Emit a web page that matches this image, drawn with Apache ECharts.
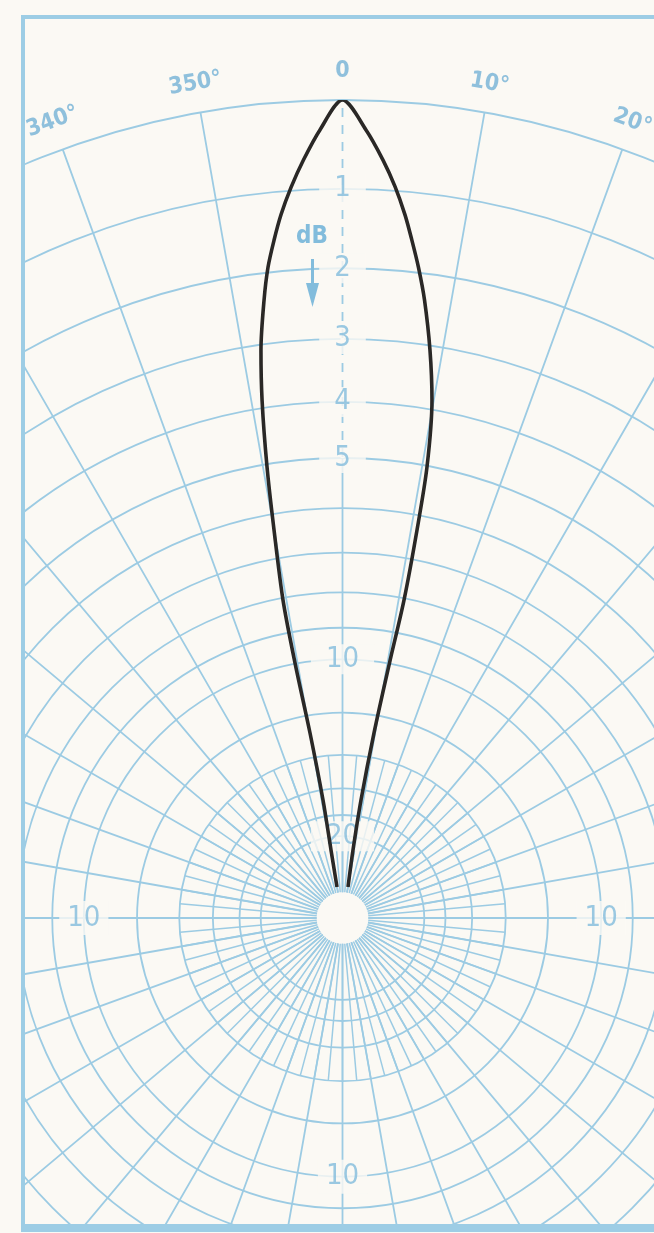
<!DOCTYPE html>
<html><head><meta charset="utf-8">
<script src="https://cdn.jsdelivr.net/npm/echarts@6/dist/echarts.min.js"></script>
<style>
html,body{margin:0;padding:0;background:#fbf9f4;overflow:hidden;width:654px;height:1233px;}
#frame{position:absolute;left:21px;top:15px;width:640px;height:1205px;border-left:4px solid #9dcde5;border-top:4px solid #9dcde5;border-bottom:8px solid #9dcde5;}
#chart{width:640px;height:1205px;}
</style></head><body>
<div id="frame"><div id="chart"></div></div>
<script>
// ---- data ----
const RING_DB = [0, 1, 2, 3, 4, 5, 6, 7, 8, 9, 10, 12, 14, 16, 18, 20];
const INNER_DB = 30;
const MINOR_SPOKE_OUTER_DB = 14;
const MAJOR_SPOKE_STEP = 10;
const MINOR_SPOKE_STEP = 5;
const ANGLE_TICKS = [0,10,20,30,40,50,60,70,80,90,100,110,120,130,140,150,160,170,180,190,200,210,220,230,240,250,260,270,280,290,300,310,320,330,340,350];
const AXIS_DB_LABELS = [1, 2, 3, 4, 5, 10, 20];
const SIDE_DB_LABEL = 10;
const SIDE_LABEL_ANGLES = [90, 180, 270];
const DASHED_TO_DB = 5;
// radiation pattern: angle (deg, clockwise from 0) and attenuation (dB)
const PATTERN_ANGLE = [-10.06, -9.60, -9.38, -9.96, -10.55, -10.60, -10.01, -9.50, -8.83, -8.17, -7.24, -6.53, -5.77, -5.00, -4.03, -2.95, -1.64, 0,
                       1.71, 3.06, 4.11, 5.08, 5.85, 6.66, 7.56, 8.76, 9.80, 10.61, 10.87, 10.95, 10.44, 9.66, 8.91, 8.78, 10.06];
const PATTERN_DB = [28.29, 21.48, 16.70, 12.78, 9.98, 8.06, 6.35, 5.05, 3.87, 3.08, 2.37, 1.93, 1.59, 1.28, 0.96, 0.65, 0.32, 0,
                    0.32, 0.65, 0.95, 1.28, 1.59, 1.93, 2.36, 3.07, 3.84, 5.02, 6.32, 8.05, 9.98, 12.79, 16.71, 21.50, 28.29];

// ---- layout / style ----
const CENTER = [317.5, 899];
const R = 818;
const PAPER = '#fbf9f4';
const GRID = '#9ccbe3';
const LABEL = '#82bcdc';
const ANGLE_LABEL_COLOR = '#74b2d6';
const ANGLE_LABEL_AMP = 1.036;
const NARROW = "'Liberation Sans Narrow', 'DejaVu Sans Condensed', sans-serif";
const COND = "'DejaVu Sans Condensed', 'Liberation Sans Narrow', sans-serif";

const amp = db => Math.pow(10, -db / 20);
const norm = a => (a < 0 ? a + 360 : a);
const signed = a => (a > 180 ? a - 360 : a);
const minAmp = amp(INNER_DB);

const chart = echarts.init(document.getElementById('chart'), null, {renderer: 'canvas'});

const axisLabelData = AXIS_DB_LABELS.map(d => ({
  value: [amp(d), 0], name: String(d),
  label: {padding: [2, 15]}
})).concat(SIDE_LABEL_ANGLES.map(a => ({
  value: [amp(SIDE_DB_LABEL), a], name: String(SIDE_DB_LABEL),
  label: {padding: [4, 8]}
})));

const angleLabelData = ANGLE_TICKS.map(a => ({
  value: [ANGLE_LABEL_AMP, a],
  name: a === 0 ? '0' : a + '°',
  label: {rotate: -signed(a)}
}));

const patternData = PATTERN_ANGLE.map((a, i) => [amp(PATTERN_DB[i]), norm(a)]);

chart.setOption({
  backgroundColor: PAPER,
  animation: false,
  polar: [
    {center: CENTER, radius: [R * minAmp, R]},
    {center: CENTER, radius: [R * minAmp, R * amp(MINOR_SPOKE_OUTER_DB)]}
  ],
  angleAxis: [
    {polarIndex: 0, type: 'value', min: 0, max: 360, interval: MAJOR_SPOKE_STEP, startAngle: 90, clockwise: true,
     axisLine: {show: false}, axisTick: {show: false}, axisLabel: {show: false},
     splitLine: {show: true, lineStyle: {color: GRID, width: 1.8}}},
    {polarIndex: 1, type: 'value', min: 0, max: 360, interval: MINOR_SPOKE_STEP, startAngle: 90, clockwise: true,
     axisLine: {show: false}, axisTick: {show: false}, axisLabel: {show: false},
     splitLine: {show: true, lineStyle: {color: GRID, width: 1.5}}}
  ],
  radiusAxis: [
    {polarIndex: 0, type: 'value', min: minAmp, max: 1,
     axisLine: {show: false}, axisLabel: {show: false},
     axisTick: {show: false, customValues: RING_DB.map(amp)},
     splitLine: {show: true, lineStyle: {color: GRID, width: 1.8}}},
    {polarIndex: 1, type: 'value', min: minAmp, max: 1, show: false,
     axisLine: {show: false}, axisLabel: {show: false}, axisTick: {show: false}, splitLine: {show: false}}
  ],
  graphic: [
    {type: 'text', left: 288 - 17, top: 219 - 13, z: 10,
     style: {text: 'dB', fill: LABEL, font: 'bold 24px ' + COND}},
    {type: 'line', z: 10, shape: {x1: 287.5, y1: 240, x2: 287.5, y2: 268},
     style: {stroke: LABEL, lineWidth: 3}},
    {type: 'polygon', z: 10, shape: {points: [[281, 264], [294, 264], [287.5, 288]]},
     style: {fill: LABEL}}
  ],
  series: [
    {type: 'line', coordinateSystem: 'polar', polarIndex: 0, z: 2, silent: true,
     symbol: 'none', data: [[amp(0), 0], [amp(DASHED_TO_DB), 0]],
     lineStyle: {color: PAPER, width: 4, type: [8, 9]}},
    {type: 'scatter', coordinateSystem: 'polar', polarIndex: 0, z: 3, silent: true, clip: false,
     symbol: 'circle', symbolSize: 1, itemStyle: {color: 'transparent'},
     data: axisLabelData,
     label: {show: true, position: 'inside', formatter: p => p.name, color: LABEL,
       fontFamily: NARROW, fontSize: 29, lineHeight: 26, backgroundColor: PAPER}},
    {type: 'scatter', coordinateSystem: 'polar', polarIndex: 0, z: 3, silent: true, clip: false,
     symbol: 'circle', symbolSize: 1, itemStyle: {color: 'transparent'},
     data: angleLabelData,
     label: {show: true, position: 'inside', formatter: p => p.name, color: ANGLE_LABEL_COLOR,
       fontFamily: COND, fontWeight: 'bold', fontSize: 23}},
    {type: 'line', coordinateSystem: 'polar', polarIndex: 0, z: 5, silent: true,
     symbol: 'none', smooth: 0.3, data: patternData,
     lineStyle: {color: '#2a2826', width: 3.6}}
  ]
});
</script>
</body></html>
